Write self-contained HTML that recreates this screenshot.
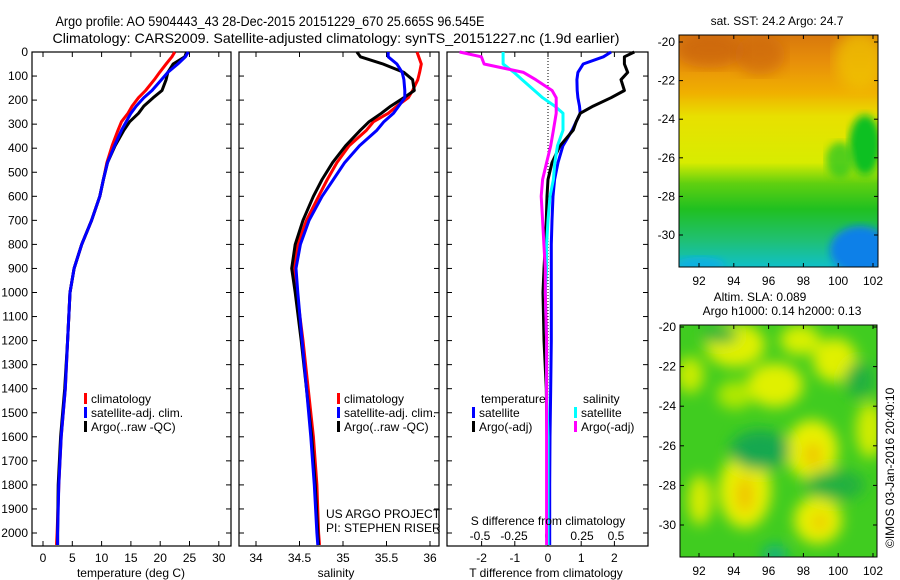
<!DOCTYPE html>
<html><head><meta charset="utf-8">
<style>
html,body{margin:0;padding:0;background:#fff;}
svg{display:block;font-family:"Liberation Sans",sans-serif;}
text{fill:#000;}
</style></head>
<body>
<svg id="chart" width="900" height="580" viewBox="0 0 900 580" xmlns="http://www.w3.org/2000/svg">
<defs>
<linearGradient id="sstGrad" x1="0" y1="0" x2="0" y2="1">
<stop offset="0" stop-color="#d8780c"/>
<stop offset="0.12" stop-color="#e8900a"/>
<stop offset="0.25" stop-color="#f0b000"/>
<stop offset="0.35" stop-color="#e8e000"/>
<stop offset="0.55" stop-color="#d8ec00"/>
<stop offset="0.64" stop-color="#60d010"/>
<stop offset="0.75" stop-color="#20c020"/>
<stop offset="0.88" stop-color="#20c070"/>
<stop offset="1" stop-color="#10c0c8"/>
</linearGradient>
<filter id="blur6"><feGaussianBlur stdDeviation="7"/></filter>
<filter id="blur4"><feGaussianBlur stdDeviation="4"/></filter>
<clipPath id="clipTop"><rect x="679" y="35" width="199" height="232"/></clipPath>
<clipPath id="clipBot"><rect x="680" y="325" width="197" height="232"/></clipPath>
</defs>
<g id="titles">
<text x="270" y="26" font-size="14" text-anchor="middle" textLength="429" lengthAdjust="spacingAndGlyphs">Argo profile: AO 5904443_43 28-Dec-2015 20151229_670 25.665S 96.545E</text>
<text x="336" y="43" font-size="14" text-anchor="middle" textLength="567" lengthAdjust="spacingAndGlyphs">Climatology: CARS2009. Satellite-adjusted climatology: synTS_20151227.nc (1.9d earlier)</text>
</g>
<g id="plots"></g>

<!-- SST map -->
<g>
<g clip-path="url(#clipTop)">
<rect x="679" y="35" width="199" height="232" fill="url(#sstGrad)"/>
<ellipse cx="710" cy="50" rx="35" ry="18" fill="#c86008" opacity="0.7" filter="url(#blur6)"/>
<ellipse cx="760" cy="55" rx="25" ry="20" fill="#c86008" opacity="0.6" filter="url(#blur6)"/>
<ellipse cx="860" cy="60" rx="25" ry="30" fill="#f0c800" opacity="0.7" filter="url(#blur6)"/>
<ellipse cx="865" cy="145" rx="16" ry="30" fill="#10c020" filter="url(#blur4)"/>
<ellipse cx="840" cy="160" rx="14" ry="18" fill="#30c820" opacity="0.8" filter="url(#blur4)"/>
<ellipse cx="860" cy="250" rx="30" ry="24" fill="#1080e8" filter="url(#blur4)"/>
<ellipse cx="700" cy="265" rx="25" ry="8" fill="#10b0e0" filter="url(#blur4)"/>
</g>
<rect x="679" y="35" width="199" height="232" fill="none" stroke="#000"/>
</g>
<text x="777" y="25" font-size="12" text-anchor="middle">sat. SST: 24.2 Argo: 24.7</text>

<!-- SLA map -->
<g>
<g clip-path="url(#clipBot)">
<rect x="680" y="325" width="197" height="232" fill="#40cc20"/>
<g filter="url(#blur6)">
<ellipse cx="735" cy="345" rx="30" ry="22" fill="#e0f000"/>
<ellipse cx="800" cy="340" rx="20" ry="15" fill="#d8f000"/>
<ellipse cx="835" cy="360" rx="22" ry="22" fill="#e0f000"/>
<ellipse cx="690" cy="375" rx="14" ry="18" fill="#c8ec00"/>
<ellipse cx="775" cy="385" rx="28" ry="22" fill="#e0f000"/>
<ellipse cx="735" cy="395" rx="18" ry="14" fill="#b0e800"/>
<ellipse cx="812" cy="450" rx="26" ry="30" fill="#e8f000"/>
<ellipse cx="813" cy="455" rx="8" ry="12" fill="#f0c000"/>
<ellipse cx="745" cy="490" rx="26" ry="38" fill="#e8f000"/>
<ellipse cx="745" cy="495" rx="8" ry="18" fill="#f0c000"/>
<ellipse cx="700" cy="500" rx="12" ry="25" fill="#d8ec00"/>
<ellipse cx="818" cy="520" rx="24" ry="24" fill="#e8f000"/>
<ellipse cx="820" cy="522" rx="7" ry="8" fill="#f0c000"/>
<ellipse cx="870" cy="430" rx="14" ry="28" fill="#d0ec00"/>
<ellipse cx="860" cy="380" rx="15" ry="18" fill="#20b040"/>
<ellipse cx="720" cy="335" rx="18" ry="8" fill="#20b040"/>
<ellipse cx="760" cy="450" rx="30" ry="20" fill="#18a850"/>
<ellipse cx="835" cy="485" rx="30" ry="15" fill="#20b040"/>
<ellipse cx="775" cy="555" rx="12" ry="10" fill="#10b080"/>
</g>
</g>
<rect x="680" y="325" width="197" height="232" fill="none" stroke="#000"/>
</g>
<text x="760" y="301" font-size="12" text-anchor="middle">Altim. SLA: 0.089</text>
<text x="782" y="315" font-size="12" text-anchor="middle">Argo h1000: 0.14 h2000: 0.13</text>
<text transform="translate(894,548) rotate(-90)" font-size="12">©IMOS 03-Jan-2016 20:40:10</text>
</svg>
<script>
var depths = [0,20,50,85,115,160,190,225,255,290,325,390,460,530,600,700,800,900,1000,1200,1400,1600,1800,2000,2050];
var tempClim = [22.5,22,21,19.9,19.0,17.5,16.3,15.2,14.5,13.4,12.8,11.8,10.9,10.3,9.7,8.3,6.6,5.3,4.6,4.2,3.8,3.1,2.7,2.4,2.3];
var tempSat = [24.8,24.3,23,21.3,20.2,18.6,17.2,15.9,15.0,14.2,13.4,12.2,11.0,10.3,9.7,8.3,6.6,5.3,4.6,4.2,3.8,3.1,2.7,2.5,2.5];
var tempArgo = [24.5,24.2,22.2,21.3,21.0,20.3,18.8,17.2,16.3,14.8,13.8,12.3,11.0,10.3,9.7,8.3,6.6,5.3,4.6,4.2,3.7,3.0,2.6,2.5,2.5];
var salClim = [35.85,35.87,35.9,35.88,35.86,35.8,35.75,35.62,35.52,35.35,35.27,35.07,34.93,34.82,34.72,34.58,34.48,34.43,34.47,34.54,34.6,34.66,34.7,34.72,34.73];
var salSat = [35.52,35.52,35.62,35.68,35.70,35.71,35.71,35.64,35.58,35.47,35.39,35.19,35.02,34.89,34.76,34.61,34.51,34.46,34.48,34.53,34.58,34.63,34.67,34.70,34.71];
var salArgo = [35.16,35.2,35.46,35.7,35.8,35.82,35.7,35.55,35.44,35.3,35.2,35.03,34.88,34.76,34.66,34.54,34.45,34.41,34.45,34.52,34.58,34.64,34.68,34.71,34.72];
var dTempSat = [1.9,1.67,1.06,0.9,0.87,0.88,0.9,0.95,0.97,0.85,0.73,0.45,0.3,0.2,0.15,0.12,0.1,0.1,0.1,0.1,0.08,0.06,0.05,0.05,0.05];
var dTempArgo = [2.6,2.3,2.3,2.4,2.2,2.3,1.9,1.36,0.97,0.85,0.76,0.36,0.12,0.0,-0.03,-0.05,-0.08,-0.12,-0.15,-0.12,-0.05,-0.03,-0.02,-0.02,-0.02];
var dSalSat = [-0.33,-0.33,-0.33,-0.25,-0.19,-0.1,-0.04,0.05,0.11,0.11,0.11,0.07,0.05,0.04,0.015,0.0,-0.01,-0.01,-0.02,-0.01,-0.01,0,0,0,0];
var dSalArgo = [-0.65,-0.49,-0.47,-0.18,-0.09,0.03,0.06,0.06,0.06,0.05,0.04,0.02,-0.01,-0.04,-0.05,-0.04,-0.03,-0.02,-0.02,-0.01,-0.01,-0.01,-0.01,-0.01,-0.01];
var depthTicks = [0,100,200,300,400,500,600,700,800,900,1000,1100,1200,1300,1400,1500,1600,1700,1800,1900,2000];
var tempTicks = [0,5,10,15,20,25,30];
var salTicks = [34,34.5,35,35.5,36];
var dTempTicks = [-2,-1,0,1,2];
var dSalTicks = [-0.5,-0.25,0,0.25,0.5];
var dSalTickLabels = ['-0.5','-0.25','0','0.25','0.5'];
var mapLonTicks = [92,94,96,98,100,102];
var mapLatTicks = [-20,-22,-24,-26,-28,-30];

var NS='http://www.w3.org/2000/svg';
var svg=document.getElementById('chart');
var plots=document.getElementById('plots');
function mk(tag,attrs,parent){var e=document.createElementNS(NS,tag);for(var k in attrs)e.setAttribute(k,attrs[k]);(parent||plots).appendChild(e);return e;}
function yD(d){return 52+d*0.2405;}
function xT(v){return 43+v*5.86;}
function xS(v){return 256+(v-34)*87;}
function xDT(v){return 548+v*33.2;}
function xDS(v){return 548+v*136;}

function panel(name,x0,x1){
  var r=mk('rect',{x:x0,y:52,width:x1-x0,height:494,fill:'none',stroke:'#000','stroke-width':1.2});
  
  
  depthTicks.forEach(function(d){
    var t1=mk('line',{x1:x0,x2:x0+5,y1:yD(d),y2:yD(d),stroke:'#000'});
    
    
    var t2=mk('line',{x1:x1-5,x2:x1,y1:yD(d),y2:yD(d),stroke:'#000'});
    
    
  });
}
function xticks(vals,fx,labels,ly,namePre,ticksTop){
  vals.forEach(function(v,i){
    var x=fx(v);
    var t=mk('line',{x1:x,x2:x,y1:541,y2:546,stroke:'#000'});
    
    
    if(ticksTop){
      var t2=mk('line',{x1:x,x2:x,y1:52,y2:57,stroke:'#000'});
      
      
    }
    var tx=mk('text',{x:x,y:ly,'font-size':12,'text-anchor':'middle'});
    tx.textContent=labels?labels[i]:String(v);
    
    
  });
}
function series(name,vals,fx,color){
  var pts=vals.map(function(v,i){return fx(v).toFixed(1)+','+yD(depths[i]).toFixed(1);}).join(' ');
  var p=mk('polyline',{points:pts,fill:'none',stroke:color,'stroke-width':3,'stroke-linejoin':'round'});
  
  
}
function txt(name,x,y,s,anchor,size){
  var t=mk('text',{x:x,y:y,'font-size':size||12,'text-anchor':anchor||'start'});
  t.textContent=s;
  
  
}
function legItem(name,x,y,color,label){
  var r=mk('rect',{x:x,y:y-10,width:3,height:11,fill:color});
  
  
  txt(name,x+7,y,label);
}

// panel 1
panel('temperature-panel',32,231);
depthTicks.forEach(function(d){txt('depth-tick-label',28,yD(d)+4,String(d),'end');});
xticks(tempTicks,xT,null,562,'temperature-axis',true);
series('temperature-climatology',tempClim,xT,'#ff0000');
series('temperature-argo',tempArgo,xT,'#000000');
series('temperature-satellite-adj',tempSat,xT,'#0000ff');
txt('temperature-axis-title',131,577,'temperature (deg C)','middle');
legItem('legend-climatology',84,403,'#ff0000','climatology');
legItem('legend-satellite-adj',84,417,'#0000ff','satellite-adj. clim.');
legItem('legend-argo',84,431,'#000000','Argo(..raw -QC)');

// panel 2
panel('salinity-panel',239,439);
xticks(salTicks,xS,null,562,'salinity-axis',true);
series('salinity-climatology',salClim,xS,'#ff0000');
series('salinity-argo',salArgo,xS,'#000000');
series('salinity-satellite-adj',salSat,xS,'#0000ff');
txt('salinity-axis-title',336,577,'salinity','middle');
legItem('legend-climatology-2',337,403,'#ff0000','climatology');
legItem('legend-satellite-adj-2',337,417,'#0000ff','satellite-adj. clim.');
legItem('legend-argo-2',337,431,'#000000','Argo(..raw -QC)');
txt('us-argo-project',326,518,'US ARGO PROJECT');
txt('pi-name',326,532,'PI: STEPHEN RISER');

// panel 3
panel('difference-panel',447,648);
var zl=mk('line',{x1:548,x2:548,y1:52,y2:546,stroke:'#000','stroke-dasharray':'1,2'});


xticks(dTempTicks,xDT,null,562,'t-diff-axis',true);
dSalTicks.forEach(function(v,i){txt('s-diff-tick-label',xDS(v),540,dSalTickLabels[i],'middle');});
series('t-diff-satellite',dTempSat,xDT,'#0000ff');
series('t-diff-argo',dTempArgo,xDT,'#000000');
series('s-diff-satellite',dSalSat,xDS,'#00ffff');
series('s-diff-argo',dSalArgo,xDS,'#ff00ff');
txt('s-diff-axis-title',548,525,'S difference from climatology','middle');
txt('t-diff-axis-title',546,577,'T difference from climatology','middle');
txt('legend-temperature-heading',481,403,'temperature');
legItem('legend-t-satellite',472,417,'#0000ff','satellite');
legItem('legend-t-argo',472,431,'#000000','Argo(-adj)');
txt('legend-salinity-heading',583,403,'salinity');
legItem('legend-s-satellite',574,417,'#00ffff','satellite');
legItem('legend-s-argo',574,431,'#ff00ff','Argo(-adj)');

// map axes
function mapAxes(pre,x0,x1,y0,y1,latTop,latScale,ly){
  mapLonTicks.forEach(function(v){
    var x=699+(v-92)*17.4;
    var t=mk('line',{x1:x,x2:x,y1:y1-4,y2:y1,stroke:'#000'},svg);
    
    
    var t2=mk('line',{x1:x,x2:x,y1:y0,y2:y0+4,stroke:'#000'},svg);
    
    
    var tx=mk('text',{x:x,y:ly,'font-size':12,'text-anchor':'middle'},svg);
    tx.textContent=String(v);
    
    
  });
  mapLatTicks.forEach(function(v){
    var y=latTop+(-20-v)*latScale;
    var t=mk('line',{x1:x0,x2:x0+4,y1:y,y2:y,stroke:'#000'},svg);
    
    
    var t2=mk('line',{x1:x1-4,x2:x1,y1:y,y2:y,stroke:'#000'},svg);
    
    
    var tx=mk('text',{x:x0-4,y:y+4,'font-size':12,'text-anchor':'end'},svg);
    tx.textContent=String(v);
    
    
  });
}
mapAxes('sst-map',679,878,35,267,42,19.3,285);
mapAxes('sla-map',680,877,325,557,327,19.8,575);
</script>
</body></html>
